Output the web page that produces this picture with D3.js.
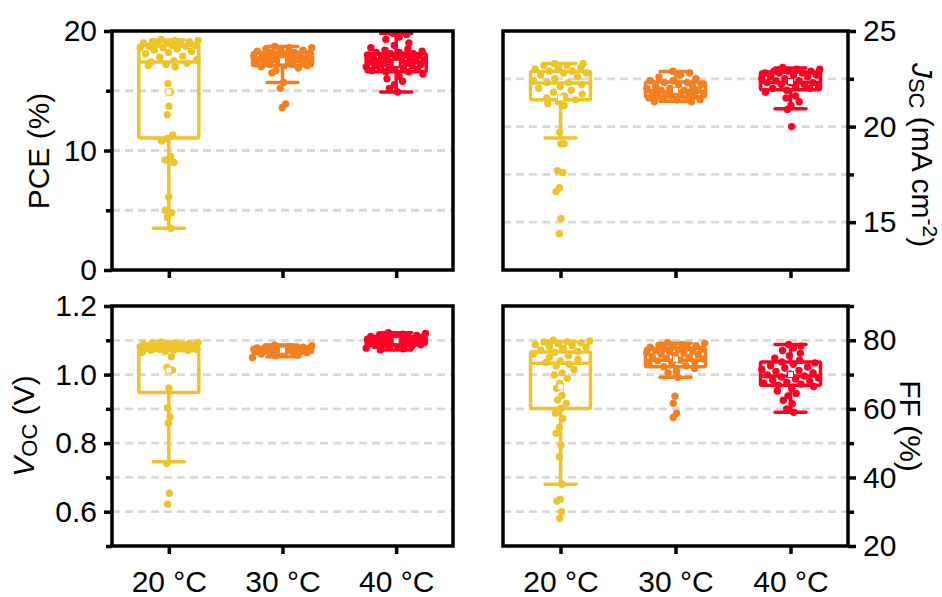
<!DOCTYPE html>
<html>
<head>
<meta charset="utf-8">
<script src="https://cdn.jsdelivr.net/npm/d3@7/dist/d3.min.js"></script>
<style>
  body { margin: 0; background: #fff; }
  text { font-family: "Liberation Sans", Arial, sans-serif; fill: #000; }
</style>
</head>
<body>
<svg id="chart" width="942" height="597"></svg>
<script>
// Growth temperatures and their colours
const categories = ["20 °C", "30 °C", "40 °C"];
const colors = ["#EEC42B", "#F47F20", "#FF0024"];

// Power conversion efficiency (%) of individual devices
const pce20 = [19.3,19.2,19.2,19.1,19.1,19.0,19.0,18.9,18.9,18.8,18.8,18.7,18.7,18.6,18.6,18.5,18.4,18.3,18.2,18.1,17.9,17.8,17.6,17.5,17.4,17.3,17.2,17.1,17.0,15.6,14.9,13.7,13.0,11.3,11.0,10.8,9.5,9.2,9.0,6.1,5.0,4.8,4.4,3.5];
const pce30 = [18.7,18.6,18.6,18.5,18.4,18.3,18.3,18.2,18.2,18.1,18.1,18.0,18.0,17.9,17.9,17.8,17.8,17.7,17.7,17.6,17.6,17.6,17.5,17.5,17.4,17.4,17.3,17.3,17.2,17.2,17.1,17.1,17.0,16.9,16.7,16.5,15.7,15.2,13.9,13.6];
const pce40 = [19.8,19.7,19.5,19.3,19.0,18.8,18.6,18.5,18.4,18.3,18.2,18.2,18.1,18.1,18.0,18.0,17.9,17.9,17.8,17.8,17.7,17.7,17.6,17.6,17.5,17.5,17.4,17.4,17.3,17.3,17.2,17.2,17.1,17.1,17.0,17.0,16.9,16.9,16.8,16.8,16.7,16.6,16.6,16.4,16.2,16.0,15.8,15.5,15.2,14.9];

// Short-circuit current density (mA cm^-2)
const jsc20 = [23.3,23.3,23.2,23.2,23.1,23.0,23.0,22.9,22.9,22.8,22.8,22.7,22.6,22.5,22.4,22.3,22.3,22.2,22.1,22.0,21.9,21.8,21.7,21.6,21.5,21.4,21.3,21.2,21.1,19.7,19.1,19.1,17.7,17.6,16.8,16.6,15.2,14.4];
const jsc30 = [22.9,22.8,22.7,22.6,22.5,22.4,22.4,22.3,22.3,22.2,22.2,22.1,22.1,22.0,22.0,21.9,21.9,21.9,21.8,21.8,21.8,21.7,21.7,21.7,21.6,21.6,21.6,21.5,21.5,21.5,21.4,21.4,21.3,21.3];
const jsc40 = [23.1,23.0,23.0,22.9,22.9,22.9,22.8,22.8,22.8,22.7,22.7,22.6,22.6,22.5,22.5,22.4,22.4,22.3,22.3,22.3,22.2,22.2,22.1,22.1,22.0,22.0,21.9,21.8,21.6,21.5,21.3,21.1,20.9,20.0];

// Open-circuit voltage (V)
const voc20 = [1.095,1.094,1.093,1.092,1.091,1.090,1.089,1.088,1.087,1.086,1.085,1.084,1.083,1.082,1.081,1.080,1.079,1.078,1.077,1.076,1.075,1.074,1.073,1.072,1.071,1.070,1.068,1.065,1.052,1.021,1.013,0.961,0.903,0.877,0.858,0.741,0.654,0.622];
const voc30 = [1.086,1.084,1.082,1.081,1.080,1.079,1.078,1.078,1.077,1.076,1.076,1.075,1.075,1.074,1.074,1.073,1.073,1.072,1.072,1.071,1.071,1.070,1.070,1.069,1.069,1.068,1.068,1.067,1.066,1.065,1.064,1.062,1.060,1.057,1.055,1.050];
const voc40 = [1.122,1.120,1.118,1.116,1.114,1.112,1.111,1.110,1.109,1.108,1.107,1.106,1.105,1.104,1.103,1.102,1.101,1.100,1.099,1.098,1.097,1.096,1.095,1.094,1.093,1.092,1.091,1.090,1.089,1.088,1.087,1.086,1.085,1.083,1.080,1.077,1.075,1.072];

// Fill factor (%)
const ff20 = [80.0,79.8,79.6,79.5,79.3,79.0,78.8,78.5,78.2,78.0,77.6,77.2,76.8,76.5,76.0,75.5,75.0,74.5,74.0,73.5,73.0,72.5,71.5,70.5,69.9,68.9,67.5,66.0,64.0,62.6,61.6,60.2,58.7,57.2,54.6,52.9,49.4,46.0,38.0,33.6,33.1,30.0,28.1];
const ff30 = [79.3,79.1,78.8,78.6,78.4,78.2,78.0,77.8,77.6,77.4,77.2,77.0,76.8,76.6,76.4,76.2,76.0,75.8,75.5,75.2,75.0,74.8,74.5,74.2,74.0,73.7,73.4,73.0,72.6,72.3,71.8,71.0,70.5,69.2,63.7,61.6,58.7,57.5];
const ff40 = [78.8,78.3,77.8,77.0,76.2,75.5,74.8,74.2,73.7,73.4,73.0,72.6,72.2,71.9,71.5,71.2,70.9,70.5,70.2,69.9,69.6,69.3,69.0,68.7,68.4,68.1,67.8,67.5,67.2,66.9,66.5,66.0,65.2,64.5,63.8,62.5,61.5,60.0,59.0];

// Box statistics per temperature: [lower whisker, Q1, median, Q3, upper whisker, mean]
const pceBox = [[3.5,11.05,17.4,18.8,19.25,14.9],[15.7,17.1,17.6,18.2,18.7,17.5],[14.9,16.6,17.4,18.1,19.8,17.3]];
const jscBox = [[19.41,21.4,22.28,22.88,23.3,21.5],[21.32,21.55,21.84,22.33,22.88,21.9],[20.94,21.93,22.3,22.85,23.06,22.36]];
const vocBox = [[0.746,0.948,1.07,1.079,1.093,1.013],[1.052,1.065,1.071,1.078,1.086,1.071],[1.072,1.088,1.099,1.108,1.122,1.099]];
const ffBox  = [[38.0,60.1,73.3,76.6,79.6,66.4],[69.2,72.3,74.2,77.6,79.1,74.5],[59.0,66.9,69.6,73.7,78.8,70.0]];

// Axis ticks
const pceMajor = [0,10,20], pceMinor = [5,15], pceGrid = [5,10,15];
const jscMajor = [15,20,25], jscMinor = [17.5,22.5], jscGrid = [15,17.5,20,22.5];
const vocMajor = [0.6,0.8,1.0,1.2], vocMinor = [0.5,0.7,0.9,1.1], vocGrid = [0.6,0.7,0.8,0.9,1.0,1.1];
const ffMajor = [20,40,60,80], ffMinor = [30,50,70,90], ffGrid = [30,40,50,60,70,80];

const svg = d3.select("#chart");

const panels = [
  { groups: [pce20, pce30, pce40], box: pceBox, domain: [0, 20], major: pceMajor, minor: pceMinor, grid: pceGrid,
    fmt: d3.format("d"), side: "left", xr: [112, 453], yr: [31, 270], xLabels: false },
  { groups: [jsc20, jsc30, jsc40], box: jscBox, domain: [12.5, 25], major: jscMajor, minor: jscMinor, grid: jscGrid,
    fmt: d3.format("d"), side: "right", xr: [503, 848], yr: [31, 270], xLabels: false },
  { groups: [voc20, voc30, voc40], box: vocBox, domain: [0.5, 1.2], major: vocMajor, minor: vocMinor, grid: vocGrid,
    fmt: d3.format(".1f"), side: "left", xr: [112, 453], yr: [306, 546], xLabels: true },
  { groups: [ff20, ff30, ff40], box: ffBox, domain: [20, 90], major: ffMajor, minor: ffMinor, grid: ffGrid,
    fmt: d3.format("d"), side: "right", xr: [503, 848], yr: [306, 546], xLabels: true }
];

const BOX_HW = 30, CAP_HW = 15.5, DOT_R = 3.7, LW = 3.5;

// Spread of each dot grows with the local crowding of values
function spreadDots(vals, y) {
  return vals.map((v, i) => {
    const crowd = vals.filter(w => Math.abs(y(w) - y(v)) < 6).length;
    const spread = Math.min(BOX_HW, 1 + 1.2 * Math.pow(crowd, 1.5));
    const u = ((i * 0.6180339887 + 0.37) % 1) * 2 - 1;
    return { v, dx: u * spread };
  });
}

panels.forEach(p => {
  const x = d3.scalePoint().domain(categories).range(p.xr).padding(0.5);
  const y = d3.scaleLinear().domain(p.domain).range([p.yr[1], p.yr[0]]);
  const g = svg.append("g");

  // dashed grid
  g.append("g").selectAll("line").data(p.grid).join("line")
    .attr("x1", p.xr[0]).attr("x2", p.xr[1])
    .attr("y1", d => y(d)).attr("y2", d => y(d))
    .attr("stroke", "#d9d9d9").attr("stroke-width", 2.8).attr("stroke-dasharray", "8,5");

  p.groups.forEach((vals, i) => {
    const cx = x(categories[i]);
    const [lw, q1, med, q3, uw, mean] = p.box[i];
    const c = colors[i];
    const bg = g.append("g").attr("stroke", c).attr("stroke-width", LW).attr("fill", "none");
    bg.append("line").attr("x1", cx).attr("x2", cx).attr("y1", y(lw)).attr("y2", y(q1));
    bg.append("line").attr("x1", cx).attr("x2", cx).attr("y1", y(q3)).attr("y2", y(uw));
    bg.append("line").attr("x1", cx - CAP_HW).attr("x2", cx + CAP_HW).attr("y1", y(lw)).attr("y2", y(lw))
      .attr("stroke-linecap", "round");
    bg.append("line").attr("x1", cx - CAP_HW).attr("x2", cx + CAP_HW).attr("y1", y(uw)).attr("y2", y(uw))
      .attr("stroke-linecap", "round");
    bg.append("rect").attr("x", cx - BOX_HW).attr("width", 2 * BOX_HW)
      .attr("y", y(q3)).attr("height", Math.max(0.5, y(q1) - y(q3))).attr("rx", 1.5);
    bg.append("line").attr("x1", cx - BOX_HW).attr("x2", cx + BOX_HW).attr("y1", y(med)).attr("y2", y(med));

    g.append("g").selectAll("circle").data(spreadDots(vals, y)).join("circle")
      .attr("cx", d => cx + d.dx).attr("cy", d => y(d.v)).attr("r", DOT_R).attr("fill", c);

    g.append("rect").attr("x", cx - 3).attr("y", y(mean) - 3).attr("width", 6).attr("height", 6)
      .attr("fill", "#fff").attr("stroke", c).attr("stroke-width", 1);
  });

  // frame
  g.append("rect").attr("x", p.xr[0]).attr("y", p.yr[0])
    .attr("width", p.xr[1] - p.xr[0]).attr("height", p.yr[1] - p.yr[0])
    .attr("fill", "none").attr("stroke", "#000").attr("stroke-width", LW);

  // value axis
  const axisX = p.side === "left" ? p.xr[0] : p.xr[1];
  const mk = p.side === "left" ? d3.axisLeft : d3.axisRight;
  const major = g.append("g").attr("transform", `translate(${axisX},0)`)
    .call(mk(y).tickValues(p.major).tickFormat(p.fmt).tickSize(8).tickPadding(7));
  const minor = g.append("g").attr("transform", `translate(${axisX},0)`)
    .call(mk(y).tickValues(p.minor).tickFormat("").tickSize(6));
  [major, minor].forEach(a => {
    a.select(".domain").remove();
    a.selectAll("line").attr("stroke", "#000").attr("stroke-width", LW);
  });
  major.selectAll("text").attr("font-size", 30).attr("fill", "#000")
    .attr("font-family", "Liberation Sans, Arial, sans-serif");

  // category axis
  const cat = g.append("g").attr("transform", `translate(0,${p.yr[1]})`)
    .call(d3.axisBottom(x).tickSize(8).tickPadding(17).tickFormat(p.xLabels ? null : ""));
  cat.select(".domain").remove();
  cat.selectAll("line").attr("stroke", "#000").attr("stroke-width", LW);
  cat.selectAll("text").attr("font-size", 30).attr("fill", "#000")
    .attr("font-family", "Liberation Sans, Arial, sans-serif");
});

// axis titles
const titles = svg.append("g").attr("font-size", 30);
titles.append("text").attr("text-anchor", "middle")
  .attr("transform", "translate(49,151) rotate(-90)").text("PCE (%)");

const vocT = titles.append("text").attr("text-anchor", "middle")
  .attr("transform", "translate(34,426) rotate(-90)");
vocT.append("tspan").attr("font-style", "italic").text("V");
vocT.append("tspan").attr("font-size", 22).attr("dy", 3).text("OC");
vocT.append("tspan").attr("dy", -3).text(" (V)");

const jscT = titles.append("text").attr("text-anchor", "middle")
  .attr("transform", "translate(912,155) rotate(90)");
jscT.append("tspan").attr("font-style", "italic").text("J");
jscT.append("tspan").attr("font-size", 22).attr("dy", 3).text("SC");
jscT.append("tspan").attr("dy", -3).text(" (mA cm");
jscT.append("tspan").attr("font-size", 21).attr("dy", -11).text("-2");
jscT.append("tspan").attr("dy", 11).text(")");

titles.append("text").attr("text-anchor", "middle")
  .attr("transform", "translate(900,426) rotate(90)").text("FF (%)");
</script>
</body>
</html>
